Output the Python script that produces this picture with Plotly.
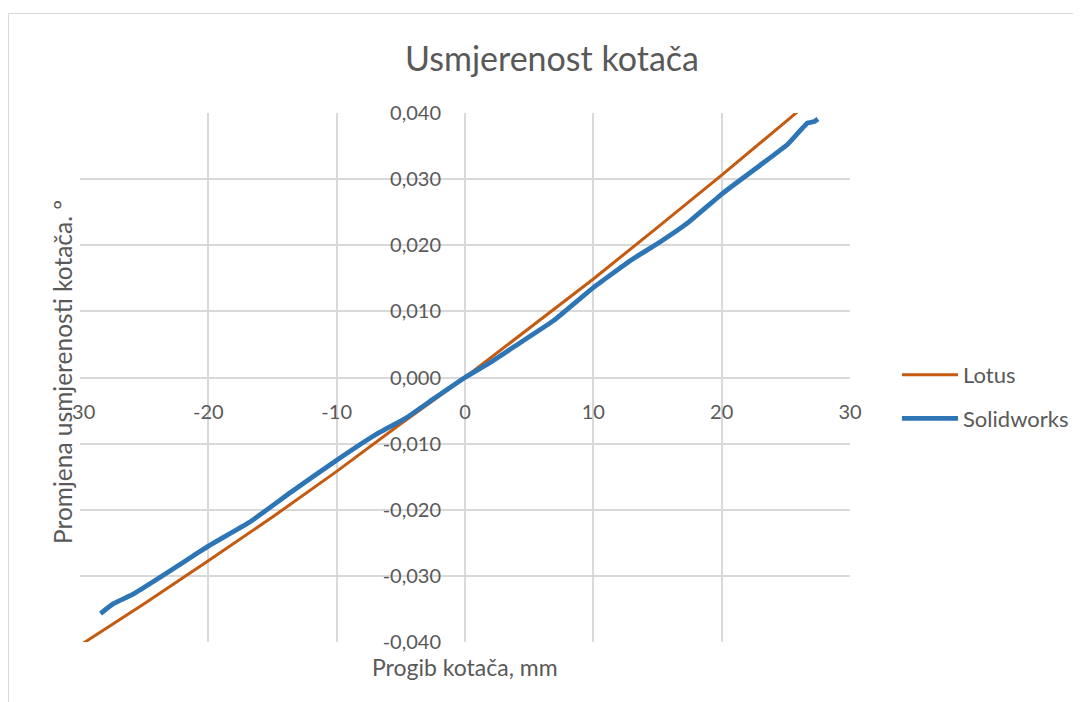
import plotly.graph_objects as go

# Data
lotus_x = [-30, -25, -20, -15, -10, -5, 0, 5, 10, 15, 20, 25, 27]
lotus_y = [-0.0405, -0.0342, -0.0277, -0.0211, -0.0142, -0.0070, 0.0, 0.0074, 0.0149,
           0.0227, 0.0306, 0.0387, 0.0420]

solid_x = [-28.4, -27.4, -25.9, -24.0, -22.0, -20.0, -16.8, -13.6, -10.0, -7.1, -4.5,
           -2.5, 0, 2, 3.7, 6.9, 10, 12.9, 15.2, 17.3, 20.1, 23.0, 25.1, 26.7, 27.2, 27.5]
solid_y = [-0.0357, -0.0342, -0.0328, -0.0305, -0.0280, -0.0255, -0.0219, -0.0174,
           -0.0125, -0.0088, -0.0060, -0.0033, 0.0, 0.0023, 0.0045, 0.0086, 0.0136,
           0.0177, 0.0205, 0.0233, 0.0279, 0.0321, 0.0352, 0.0385, 0.0387, 0.0391]

x_ticks = [-30, -20, -10, 0, 10, 20, 30]
x_ticktext = ["-30", "-20", "-10", "0", "10", "20", "30"]
y_ticks = [-0.04, -0.03, -0.02, -0.01, 0.0, 0.01, 0.02, 0.03, 0.04]
y_ticktext = ["-0,040", "-0,030", "-0,020", "-0,010", "0,000", "0,010", "0,020", "0,030", "0,040"]

FONT = "Lato"
TXT = "#595959"
GRID = "#d9d9d9"

OFF = 8  # page body margin
W, H = 1081, 702
L, T = 80 - OFF, 113 - OFF
pw, ph = 770, 529
R, B = W - L - pw, H - T - ph


def px_x(px):  # screen px -> paper fraction
    return (px - OFF - L) / pw


def px_y(py):
    return (T + ph - (py - OFF)) / ph


fig = go.Figure()
fig.add_trace(go.Scatter(x=lotus_x, y=lotus_y, mode="lines", name="Lotus",
                         line=dict(color="#C55A11", width=3), legendgroup="a"))
fig.add_trace(go.Scatter(x=solid_x, y=solid_y, mode="lines", name="Solidworks",
                         line=dict(color="#2E75B6", width=4.8, shape="spline", smoothing=0.3),
                         legendgroup="b"))

fig.update_layout(
    width=W, height=H,
    margin=dict(l=L, r=R, t=T, b=B),
    paper_bgcolor="white", plot_bgcolor="white",
    font=dict(family=FONT, color=TXT, size=20),
    showlegend=True,
    legend=dict(x=px_x(897), y=px_y(397), xanchor="left", yanchor="middle",
                font=dict(size=22, color=TXT, family=FONT), tracegroupgap=12,
                itemwidth=56, traceorder="grouped", bgcolor="rgba(0,0,0,0)"),
    xaxis=dict(range=[-30, 30], tickvals=x_ticks, ticktext=x_ticktext,
               showgrid=True, gridcolor=GRID, gridwidth=1.5,
               zeroline=True, zerolinecolor=GRID, zerolinewidth=1.5,
               showline=False, anchor="free", position=0.5,
               ticks="outside", ticklen=16, tickcolor="rgba(0,0,0,0)",
               tickfont=dict(size=20, color=TXT, family=FONT)),
    yaxis=dict(range=[-0.04, 0.04], tickvals=y_ticks, ticktext=y_ticktext,
               showgrid=True, gridcolor=GRID, gridwidth=1.5,
               zeroline=True, zerolinecolor=GRID, zerolinewidth=1.5,
               showline=False, anchor="free", position=0.5,
               ticks="outside", ticklen=20, tickcolor="rgba(0,0,0,0)",
               tickfont=dict(size=20, color=TXT, family=FONT)),
)

fig.add_annotation(text="Usmjerenost kotača", xref="paper", yref="paper",
                   x=px_x(552), y=px_y(58), xanchor="center", yanchor="middle",
                   showarrow=False, font=dict(size=34, color=TXT, family=FONT))
fig.add_annotation(text="Progib kotača, mm", xref="paper", yref="paper",
                   x=px_x(465), y=px_y(667), xanchor="center", yanchor="middle",
                   showarrow=False, font=dict(size=23, color=TXT, family=FONT))
fig.add_annotation(text="Promjena usmjerenosti kotača. º", xref="paper", yref="paper",
                   x=px_x(62), y=px_y(372), xanchor="center", yanchor="middle",
                   showarrow=False, textangle=-90,
                   font=dict(size=24.5, color=TXT, family=FONT))

# outer chart border
fig.add_shape(type="rect", xref="paper", yref="paper",
              x0=px_x(8.5), y0=px_y(760), x1=px_x(1120), y1=px_y(13.5),
              line=dict(color=GRID, width=1), layer="below")

fig.write_html("out.html")
